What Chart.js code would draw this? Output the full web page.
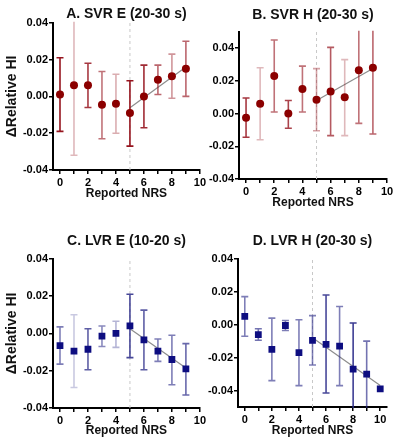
<!DOCTYPE html>
<html>
<head>
<meta charset="utf-8">
<script src="https://cdn.jsdelivr.net/npm/chart.js@4.4.1/dist/chart.umd.min.js"></script>
<style>
  body { margin: 0; background: #fff; }
  #wrap { position: relative; width: 417px; height: 438px; overflow: hidden; }
  canvas { position: absolute; }
</style>
</head>
<body>
<div id="wrap">
  <canvas id="chartA" width="208" height="203" style="left:0;top:0"></canvas>
  <canvas id="chartB" width="209" height="212" style="left:208px;top:0"></canvas>
  <canvas id="chartC" width="208" height="223" style="left:0;top:215px"></canvas>
  <canvas id="chartD" width="209" height="223" style="left:208px;top:215px"></canvas>
</div>
<script>
// reported NRS categories
var nrs = [0, 1, 2, 3, 4, 5, 6, 7, 8, 9];
var nrsD = [0, 1, 2, 3, 4, 5, 6, 7, 8, 9, 10];
var xTicks = [0, 1, 2, 3, 4, 5, 6, 7, 8, 9, 10];
var yTicks = [-0.04, -0.02, 0, 0.02, 0.04];

// A. SVR E (20-30 s)
var svrE = [0.001, 0.006, 0.006, -0.0045, -0.004, -0.009, 0.000, 0.009, 0.011, 0.015];
var svrELo = [-0.019, -0.032, -0.006, -0.023, -0.020, -0.027, -0.017, 0.001, -0.001, 0.000];
var svrEHi = [0.021, 0.045, 0.018, 0.0135, 0.012, 0.0085, 0.017, 0.017, 0.023, 0.030];
var svrEFit = [-0.0062, 0.016];

// B. SVR H (20-30 s)
var svrH = [-0.0025, 0.006, 0.023, 0.000, 0.015, 0.0085, 0.0135, 0.010, 0.0265, 0.028];
var svrHLo = [-0.0145, -0.016, 0.001, -0.009, 0.001, -0.0105, -0.0135, -0.0135, -0.006, -0.0125];
var svrHHi = [0.0095, 0.028, 0.045, 0.008, 0.029, 0.0275, 0.0405, 0.033, 0.06, 0.06];
var svrHFit = [0.008, 0.0275];

// C. LVR E (10-20 s)
var lvrE = [-0.0065, -0.0095, -0.0085, -0.0015, 0.000, 0.004, -0.0035, -0.0095, -0.014, -0.019];
var lvrELo = [-0.0165, -0.029, -0.0195, -0.007, -0.0075, -0.013, -0.0195, -0.015, -0.0275, -0.033];
var lvrEHi = [0.0035, 0.010, 0.0025, 0.004, 0.0065, 0.021, 0.0125, -0.003, -0.001, -0.0055];
var lvrEFit = [0.0025, -0.0185];

// D. LVR H (20-30 s)
var lvrH = [0.005, -0.006, -0.015, -0.0005, -0.017, -0.0095, -0.012, -0.013, -0.027, -0.030, -0.039];
var lvrHLo = [-0.007, -0.0095, -0.034, -0.0035, -0.037, -0.0245, -0.0415, -0.037, -0.06, -0.06, null];
var lvrHHi = [0.017, -0.0025, 0.004, 0.0025, 0.003, 0.0055, 0.018, 0.011, 0.001, -0.010, null];
var lvrHFit = [-0.008, -0.037];

// error bar shading (style only)
var shadeA = [1, 0.3, 0.85, 0.6, 0.35, 1, 0.9, 0.65, 0.45, 0.65];
var shadeB = [0.85, 0.3, 0.6, 0.8, 0.6, 0.4, 0.7, 0.3, 0.6, 0.65];
var shadeC = [0.6, 0.25, 0.75, 0.55, 0.35, 0.85, 0.75, 0.6, 0.6, 0.7];
var shadeD = [0.6, 0.65, 0.6, 0.6, 0.6, 0.6, 0.85, 0.6, 0.9, 0.65, 0];

var FONT = "'Liberation Sans', Arial, sans-serif";

// error bars go on top of the guide lines, just under the markers
var errorBars = {
    id: 'errorBars',
    beforeDatasetDraw: function (chart, args, opts) {
        if (args.index !== 0) return;
        var ctx = chart.ctx, area = chart.chartArea;
        var xs = chart.scales.x, ys = chart.scales.y;
        ctx.save();
        ctx.beginPath();
        ctx.rect(area.left, area.top - 1, area.right - area.left, area.bottom - area.top + 2);
        ctx.clip();
        opts.x.forEach(function (xv, i) {
            if (opts.lo[i] == null) return;
            var px = xs.getPixelForValue(xv);
            var y1 = ys.getPixelForValue(opts.lo[i]);
            var y2 = ys.getPixelForValue(opts.hi[i]);
            ctx.strokeStyle = 'rgba(' + opts.rgb + ',' + opts.shade[i] + ')';
            ctx.lineWidth = 1.6;
            ctx.beginPath();
            ctx.moveTo(px, y1); ctx.lineTo(px, y2);
            ctx.moveTo(px - 3.5, y1); ctx.lineTo(px + 3.5, y1);
            ctx.moveTo(px - 3.5, y2); ctx.lineTo(px + 3.5, y2);
            ctx.stroke();
        });
        ctx.restore();
    }
};

function makePanel(id, p) {
    var pts = p.x.map(function (v, i) { return {x: v, y: p.mean[i]}; });
    var fitEnd = p.x[p.x.length - 1];
    new Chart(document.getElementById(id), {
        type: 'scatter',
        data: {
            datasets: [{
                data: pts,
                pointStyle: p.marker,
                pointRadius: p.marker === 'rect' ? 4.8 : 4,
                backgroundColor: p.color,
                borderColor: p.color,
                borderWidth: 0,
                order: 0
            }, {
                type: 'line',
                data: [{x: 5, y: p.fit[0]}, {x: fitEnd, y: p.fit[1]}],
                borderColor: '#8c8c8c',
                borderWidth: 1.2,
                pointRadius: 0,
                order: 1
            }, {
                type: 'line',
                data: [{x: 5, y: p.yMin}, {x: 5, y: p.yMax}],
                borderColor: '#c8c8c8',
                borderWidth: 1,
                borderDash: [3, 3],
                pointRadius: 0,
                order: 2
            }]
        },
        options: {
            responsive: false,
            animation: false,
            layout: {padding: {left: 0, right: p.padRight, top: 0, bottom: 0}},
            plugins: {
                legend: {display: false},
                tooltip: {enabled: false},
                title: {
                    display: true,
                    text: p.title,
                    fullSize: false,
                    color: '#111',
                    font: {family: FONT, size: 14, weight: 'bold', lineHeight: 1.2},
                    padding: p.titlePad
                },
                errorBars: {x: p.x, lo: p.lo, hi: p.hi, shade: p.shade, rgb: p.rgb}
            },
            scales: {
                x: {
                    type: 'linear',
                    min: -0.5,
                    max: p.xMax,
                    border: {color: '#000', width: 2},
                    grid: {drawOnChartArea: false, drawTicks: true, tickLength: 4, color: '#000', lineWidth: 1.5},
                    afterBuildTicks: function (s) {
                        s.ticks = xTicks.filter(function (v) { return v <= p.xMax; }).map(function (v) { return {value: v}; });
                    },
                    ticks: {
                        color: '#000', padding: 2, maxRotation: 0, autoSkip: false,
                        font: {family: FONT, size: 11, weight: 'bold'},
                        callback: function (v) { return v % 2 === 0 ? String(v) : ''; }
                    },
                    title: {
                        display: true, text: 'Reported NRS', color: '#111',
                        font: {family: FONT, size: 12, weight: 'bold', lineHeight: 1.2},
                        padding: {top: 0, bottom: p.xTitlePad}
                    },
                    afterFit: function (s) { s.height = p.xH; }
                },
                y: {
                    min: p.yMin,
                    max: p.yMax,
                    border: {color: '#000', width: 2},
                    grid: {drawOnChartArea: false, drawTicks: true, tickLength: 4, color: '#000', lineWidth: 1.5},
                    afterBuildTicks: function (s) {
                        s.ticks = yTicks.map(function (v) { return {value: v}; });
                    },
                    ticks: {
                        color: '#000', padding: 1,
                        font: {family: FONT, size: 11, weight: 'bold'},
                        callback: function (v) { return Number(v).toFixed(2); }
                    },
                    title: {
                        display: p.yTitle, text: '\u0394Relative HI', color: '#111',
                        font: {family: FONT, size: 14, weight: 'bold', lineHeight: 1.2},
                        padding: {top: 4, bottom: 0}
                    },
                    afterFit: function (s) { s.width = p.yW; }
                }
            }
        },
        plugins: [errorBars]
    });
}

var red = '#8b0000', redRgb = '150,20,30';
var navy = '#0d0d80', navyRgb = '40,40,135';

makePanel('chartA', {
    title: 'A. SVR E (20-30 s)', x: nrs, mean: svrE, lo: svrELo, hi: svrEHi, fit: svrEFit,
    shade: shadeA, rgb: redRgb, color: red, marker: 'circle',
    yMin: -0.04, yMax: 0.04, xMax: 10, yTitle: true, yW: 53, xH: 33, padRight: 8,
    titlePad: {top: 6, bottom: 0}, xTitlePad: 2
});
makePanel('chartB', {
    title: 'B. SVR H (20-30 s)', x: nrs, mean: svrH, lo: svrHLo, hi: svrHHi, fit: svrHFit,
    shade: shadeB, rgb: redRgb, color: red, marker: 'circle',
    yMin: -0.04, yMax: 0.05, xMax: 10, yTitle: false, yW: 31, xH: 33, padRight: 30,
    titlePad: {top: 7, bottom: 8}, xTitlePad: 2
});
makePanel('chartC', {
    title: 'C. LVR E (10-20 s)', x: nrs, mean: lvrE, lo: lvrELo, hi: lvrEHi, fit: lvrEFit,
    shade: shadeC, rgb: navyRgb, color: navy, marker: 'rect',
    yMin: -0.04, yMax: 0.04, xMax: 10, yTitle: true, yW: 53, xH: 30, padRight: 8,
    titlePad: {top: 18, bottom: 9}, xTitlePad: 0
});
makePanel('chartD', {
    title: 'D. LVR H (20-30 s)', x: nrsD, mean: lvrH, lo: lvrHLo, hi: lvrHHi, fit: lvrHFit,
    shade: shadeD, rgb: navyRgb, color: navy, marker: 'rect',
    yMin: -0.05, yMax: 0.04, xMax: 10.5, yTitle: false, yW: 30, xH: 31, padRight: 30,
    titlePad: {top: 18, bottom: 9}, xTitlePad: 0
});
</script>
</body>
</html>
